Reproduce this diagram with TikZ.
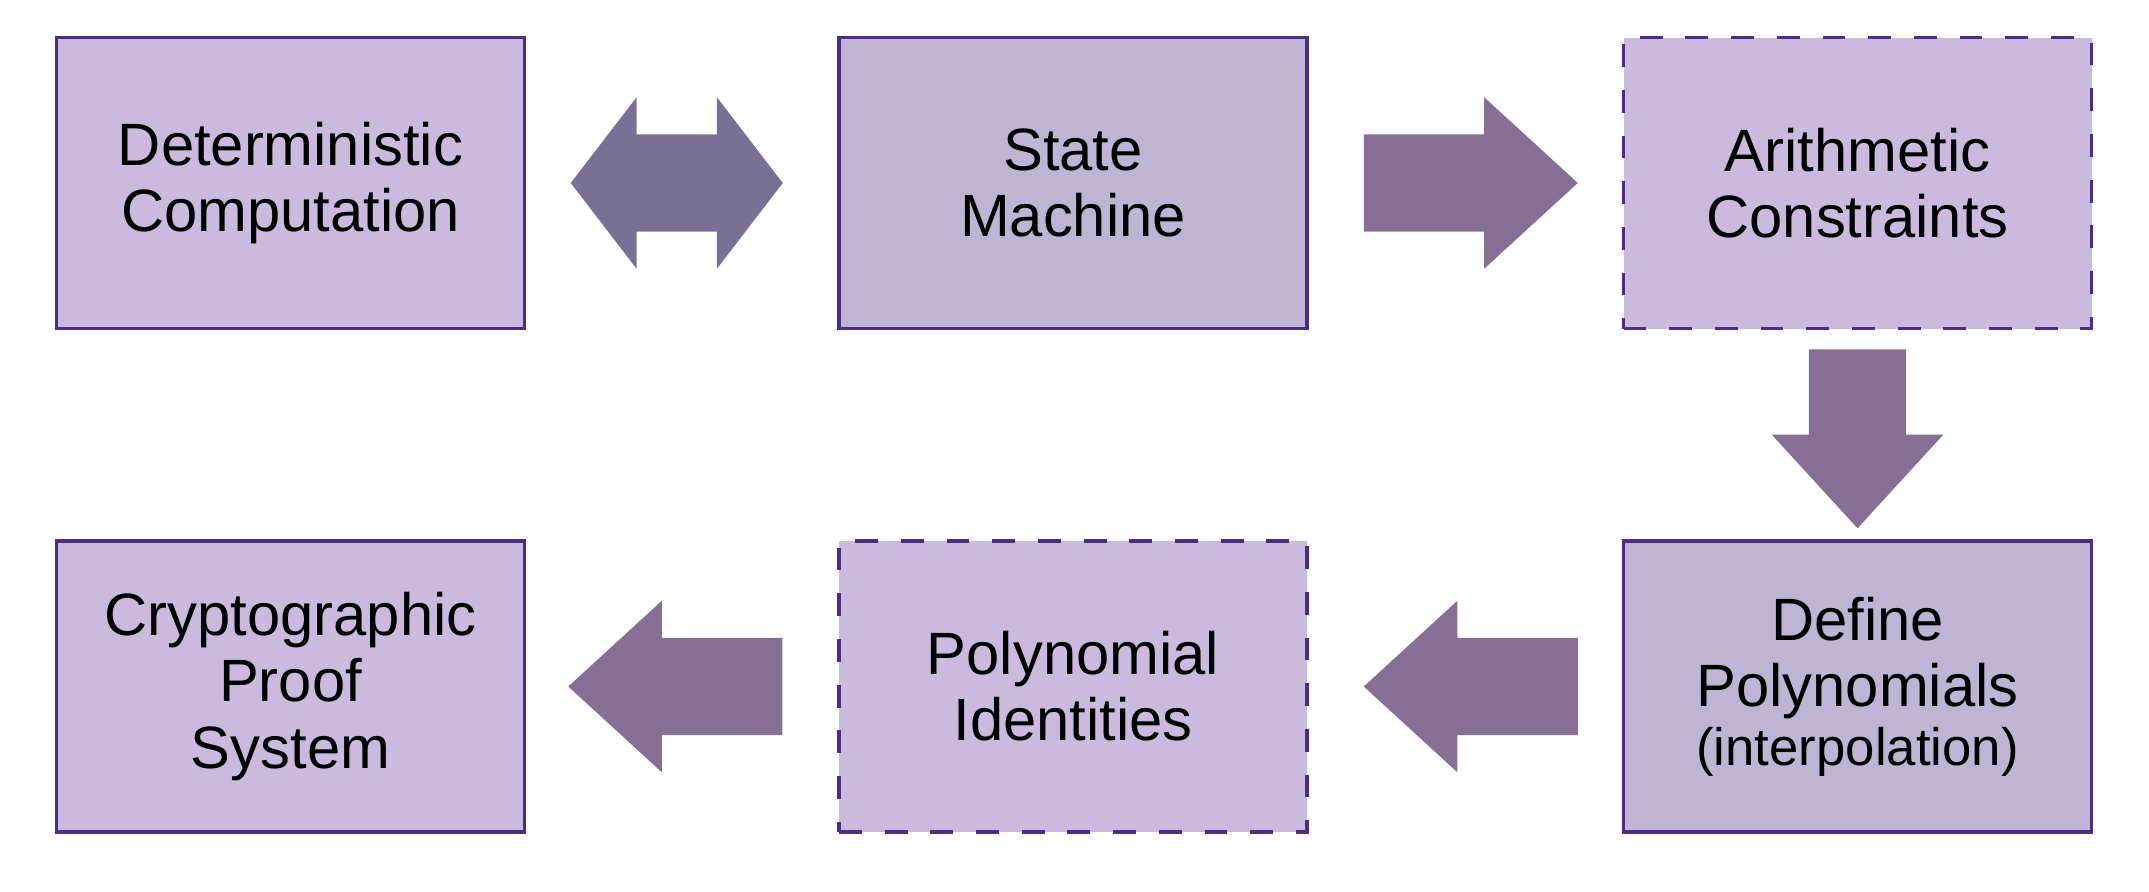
\documentclass[tikz,border=0pt]{standalone}
\usepackage{fontspec}
\setmainfont{Liberation Sans}
\usetikzlibrary{positioning, calc, shapes.arrows}

\definecolor{boxfill}{HTML}{CABBDE}
\definecolor{boxfilldark}{HTML}{C0B4D5}
\definecolor{boxline}{HTML}{4B2D83}
\definecolor{arrowfill}{HTML}{866E94}
\definecolor{twowayfill}{HTML}{7A7096}

\tikzset{
    stage/.style={draw=boxline, line width=1pt, fill=boxfill,
        minimum width=4.68cm, minimum height=2.91cm, inner sep=0pt,
        align=center, font=\fontsize{17}{18.8}\selectfont},
    darkstage/.style={stage, fill=boxfilldark},
    openstage/.style={stage, dash pattern=on 6.5pt off 6.5pt},
    blockarrow/.style={single arrow, fill=arrowfill, draw=none,
        inner xsep=0pt, inner ysep=0.48cm, outer sep=0pt,
        minimum height=2.14cm, single arrow head extend=0.37cm,
        single arrow tip angle=85, anchor=tail},
    downarrow/.style={blockarrow, shape border rotate=270,
        inner xsep=0.48cm, inner ysep=0pt, minimum height=1.79cm},
    twoway/.style={double arrow, fill=twowayfill, draw=none,
        inner xsep=0pt, inner ysep=0.48cm, outer sep=0pt,
        minimum height=2.12cm, double arrow head extend=0.37cm,
        double arrow tip angle=105}
}

\begin{document}
\begin{tikzpicture}
    \useasboundingbox (0,0) rectangle (21.49,-8.92);
    % top row
    \node[stage] (comp) at (2.905,-1.83) {Deterministic\\Computation};
    \node[darkstage, right=3.11cm of comp] (sm) {State\\Machine};
    \node[openstage, right=3.13cm of sm] (ac) {Arithmetic\\Constraints};
    % bottom row
    \node[darkstage, below=2.09cm of ac] (defpoly) {Define\\Polynomials\\[-2pt]{\fontsize{15}{16}\selectfont(interpolation)}};
    \node[openstage, below=2.09cm of sm] (polyid) {Polynomial\\Identities};
    \node[stage, below=2.09cm of comp] (proof) {Cryptographic\\Proof\\System};

    % block arrows
    \node[twoway, xshift=-0.05cm] (comp-sm) at ($(comp.east)!0.5!(sm.west)$) {};
    \node[blockarrow] (sm-ac) at ([xshift=0.55cm]sm.east) {};
    \node[downarrow] (ac-defpoly) at ([yshift=-0.19cm]ac.south) {};
    \node[blockarrow, shape border rotate=180] (defpoly-polyid) at ([xshift=-0.44cm]defpoly.west) {};
    \node[blockarrow, shape border rotate=180] (polyid-proof) at ([xshift=-0.55cm]polyid.west) {};
\end{tikzpicture}
\end{document}
